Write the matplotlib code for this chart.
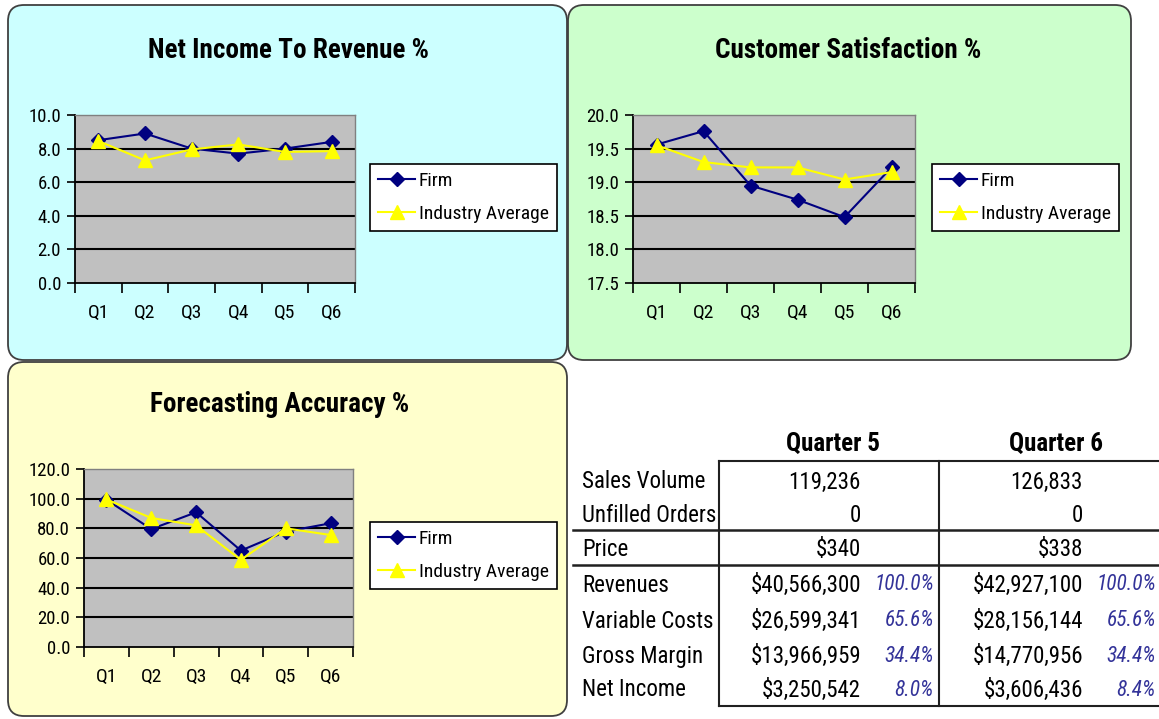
import matplotlib
matplotlib.use('Agg')
import matplotlib.pyplot as plt
import matplotlib.font_manager as fm
from matplotlib.patches import FancyBboxPatch
from matplotlib.ticker import FormatStrFormatter, FixedLocator
import numpy as np

# data
quarters = ['Q1', 'Q2', 'Q3', 'Q4', 'Q5', 'Q6']
net_income_firm = [8.5, 8.9, 8.0, 7.7, 8.0, 8.4]
net_income_ind = [8.45, 7.3, 7.95, 8.25, 7.8, 7.85]
cust_sat_firm = [19.56, 19.76, 18.95, 18.74, 18.48, 19.22]
cust_sat_ind = [19.55, 19.3, 19.22, 19.22, 19.04, 19.15]
forecast_firm = [99.3, 79.5, 90.8, 65.0, 77.8, 83.4]
forecast_ind = [99.5, 87.0, 82.0, 58.7, 80.0, 75.5]

row_labels = ['Sales Volume', 'Unfilled Orders', 'Price', 'Revenues',
              'Variable Costs', 'Gross Margin', 'Net Income']
col_headers = ['Quarter 5', 'Quarter 6']
q5_values = ['119,236', '0', '$340', '$40,566,300', '$26,599,341',
             '$13,966,959', '$3,250,542']
q5_pct = ['', '', '', '100.0%', '65.6%', '34.4%', '8.0%']
q6_values = ['126,833', '0', '$338', '$42,927,100', '$28,156,144',
             '$14,770,956', '$3,606,436']
q6_pct = ['', '', '', '100.0%', '65.6%', '34.4%', '8.4%']


# look for a narrow sans font (Arial Narrow look), otherwise shrink a bit
def pick_narrow():
    prefs = ['liberation sans narrow', 'arial narrow', 'roboto condensed',
             'dejavu sans', 'open sans', 'noto sans']
    found = []
    for f in fm.fontManager.ttflist:
        nm = f.name.lower()
        fn = f.fname.lower()
        st = str(f.stretch).lower()
        if 'narrow' in nm or 'condensed' in nm or 'condensed' in fn or 'narrow' in fn \
                or st in ('condensed', 'semi-condensed', 'extra-condensed', '75', '87.5'):
            found.append(f)
    for p in prefs:
        for f in found:
            if f.name.lower().startswith(p):
                return f.name, f.stretch
    if found:
        return found[0].name, found[0].stretch
    return None, None


fam, stretch = pick_narrow()
if fam:
    plt.rcParams['font.family'] = [fam, 'Liberation Sans', 'DejaVu Sans']
    plt.rcParams['font.stretch'] = stretch
    k = 1.0
else:
    plt.rcParams['font.family'] = ['Liberation Sans', 'DejaVu Sans']
    k = 0.86

W, H = 1159, 719
fig = plt.figure(figsize=(W/100, H/100), dpi=100)
fig.patch.set_facecolor('white')

bg = fig.add_axes([0, 0, 1, 1], zorder=0)
bg.set_xlim(0, W)
bg.set_ylim(H, 0)
bg.axis('off')

panels = [
    (8, 5, 559, 355, '#CCFFFF'),
    (568, 5, 563, 355, '#CCFFCC'),
    (8, 362, 559, 354, '#FFFFCC'),
]
for x, y, w, h, c in panels:
    bg.add_patch(FancyBboxPatch((x, y), w, h, boxstyle='round,pad=0,rounding_size=16',
                                facecolor=c, edgecolor='#404040', linewidth=1.3))


def rect(x0, y0, x1, y1):
    return [x0/W, 1 - y1/H, (x1 - x0)/W, (y1 - y0)/H]


def draw_chart(box, firm, ind, ylim, ystep, title, title_xy, legend_xy):
    ax = fig.add_axes(rect(*box), zorder=2)
    ax.set_facecolor('#C0C0C0')
    x = np.arange(len(quarters)) + 0.5
    yt = np.arange(ylim[0], ylim[1] + ystep/2, ystep)
    for v in yt[1:-1]:
        ax.axhline(v, color='black', lw=1.5, zorder=1)
    ax.plot(x, firm, color='#000080', lw=1.5, marker='D', markersize=7,
            label='Firm', zorder=3)
    ax.plot(x, ind, color='#FFFF00', lw=1.5, marker='^', markersize=10,
            label='Industry Average', zorder=4)
    ax.set_xlim(0, len(quarters))
    ax.set_ylim(*ylim)
    ax.set_yticks(yt)
    ax.yaxis.set_major_formatter(FormatStrFormatter('%.1f'))
    # ticks on the category borders, labels in the middle
    ax.set_xticks(np.arange(len(quarters) + 1))
    ax.set_xticklabels([])
    ax.xaxis.set_minor_locator(FixedLocator(x))
    ax.set_xticklabels(quarters, minor=True)
    ax.tick_params(axis='x', which='major', direction='out', length=7, width=1.2)
    ax.tick_params(axis='x', which='minor', length=0, pad=15, labelsize=14*k)
    ax.tick_params(axis='y', direction='out', length=6, width=1.2, pad=4, labelsize=13.5*k)
    for s in ['top', 'right']:
        ax.spines[s].set_color('#808080')
        ax.spines[s].set_linewidth(1)
    for s in ['left', 'bottom']:
        ax.spines[s].set_color('black')
        ax.spines[s].set_linewidth(1.3)
    fig.text(title_xy[0]/W, 1 - title_xy[1]/H, title, ha='center', va='center',
             fontsize=19.5*k, fontweight='bold')
    leg = ax.legend(loc='upper left', bbox_to_anchor=(legend_xy[0]/W, 1 - legend_xy[1]/H),
                    bbox_transform=fig.transFigure, borderaxespad=0, fontsize=14*k,
                    fancybox=False, framealpha=1, edgecolor='black', handlelength=1.9,
                    handletextpad=0.2, labelspacing=0.75, borderpad=0.42)
    leg.get_frame().set_linewidth(1.2)
    return ax


draw_chart((75, 115, 355, 283), net_income_firm, net_income_ind, (0, 10), 2,
           'Net Income To Revenue %', (288, 51), (370, 164))
draw_chart((633, 115, 915, 283), cust_sat_firm, cust_sat_ind, (17.5, 20), 0.5,
           'Customer Satisfaction %', (848, 51), (932, 164))
draw_chart((84, 469, 353, 647), forecast_firm, forecast_ind, (0, 120), 20,
           'Forecasting Accuracy %', (280, 405), (370, 522))

# table
row_y = [482, 516, 550, 585, 621, 656, 690]
fs = 16.5*k
for hdr, cx in zip(col_headers, [833, 1056]):
    bg.text(cx, 444, hdr, ha='center', va='center', fontsize=18*k, fontweight='bold')
for i, lab in enumerate(row_labels):
    y = row_y[i]
    bg.text(582, y, lab, ha='left', va='center', fontsize=fs)
    bg.text(861, y, q5_values[i], ha='right', va='center', fontsize=fs)
    bg.text(1083, y, q6_values[i], ha='right', va='center', fontsize=fs)
    if q5_pct[i]:
        bg.text(934, y, q5_pct[i], ha='right', va='center', fontsize=15.5*k,
                style='italic', color='#333399')
        bg.text(1156, y, q6_pct[i], ha='right', va='center', fontsize=15.5*k,
                style='italic', color='#333399')

lc = '#202020'
bg.plot([719, W], [461, 461], color=lc, lw=1.5)
bg.plot([573, W], [530, 530], color=lc, lw=1.8)
bg.plot([573, W], [565, 565], color=lc, lw=1.8)
bg.plot([719, W], [706, 706], color=lc, lw=1.5)
bg.plot([719, 719], [461, 706], color=lc, lw=1.5)
bg.plot([939, 939], [461, 706], color=lc, lw=1.5)

fig.savefig('out.png', dpi=100)
